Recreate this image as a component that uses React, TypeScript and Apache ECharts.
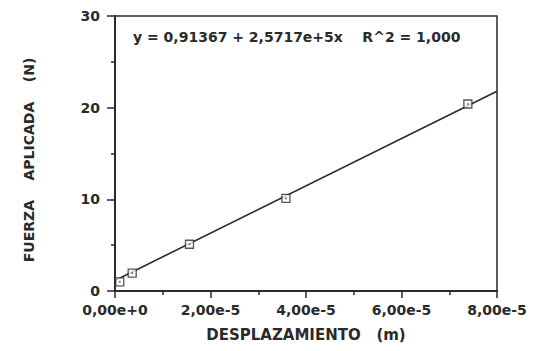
import React, { useEffect, useRef } from "react";
import * as echarts from "echarts";

const pointsX = [1.0e-6, 3.6e-6, 1.56e-5, 3.58e-5, 7.39e-5];
const pointsY = [1.0, 1.95, 5.1, 10.1, 20.4];
const fitX = [0, 8.0e-5];
const fitY = [1.15, 21.8];
const xTickLabels = ["0,00e+0", "2,00e-5", "4,00e-5", "6,00e-5", "8,00e-5"];
const yTickLabels = ["0", "10", "20", "30"];
const equationText = "y = 0,91367 + 2,5717e+5x    R^2 = 1,000";
const xName = "DESPLAZAMIENTO   (m)";
const yName = "FUERZA    APLICADA    (N)";

const INK = "#2a2a2a";
const FONT = "DejaVu Sans";

export default function App() {
  const ref = useRef<HTMLDivElement>(null);
  useEffect(() => {
    document.body.style.margin = "0";
    const chart = echarts.init(ref.current!, null, { renderer: "svg" });
    const pts = pointsX.map((x, i) => [x, pointsY[i]]);
    const fit = fitX.map((x, i) => [x, fitY[i]]);
    chart.setOption({
      animation: false,
      backgroundColor: "#ffffff",
      grid: {
        left: 115,
        right: 40,
        top: 16,
        bottom: 60,
        show: true,
        borderColor: INK,
        borderWidth: 1.5,
      },
      xAxis: {
        type: "value",
        min: 0,
        max: 8e-5,
        interval: 2e-5,
        axisLine: { show: true, lineStyle: { color: INK, width: 2 } },
        axisTick: { show: true, inside: false, length: 7, lineStyle: { color: INK, width: 1.5 } },
        minorTick: { show: true, splitNumber: 2, length: 4, lineStyle: { color: INK, width: 1.5 } },
        splitLine: { show: false },
        axisLabel: {
          margin: 12,
          color: INK,
          fontFamily: FONT,
          fontSize: 14,
          fontWeight: "bold",
          formatter: (_v: number, i: number) => xTickLabels[i],
        },
      },
      yAxis: {
        type: "value",
        min: 0,
        max: 30,
        interval: 10,
        axisLine: { show: true, lineStyle: { color: INK, width: 2 } },
        axisTick: { show: true, inside: false, length: 8, lineStyle: { color: INK, width: 1.5 } },
        minorTick: { show: true, splitNumber: 2, length: 4, lineStyle: { color: INK, width: 1.5 } },
        splitLine: { show: false },
        axisLabel: {
          margin: 15,
          color: INK,
          fontFamily: FONT,
          fontSize: 14,
          fontWeight: "bold",
          formatter: (_v: number, i: number) => yTickLabels[i],
        },
      },
      graphic: [
        {
          type: "text",
          left: 133,
          top: 30,
          style: {
            text: equationText,
            fill: INK,
            font: `bold 14px "${FONT}"`,
          },
        },
        {
          type: "text",
          x: 306,
          y: 335,
          style: {
            text: xName,
            fill: INK,
            font: `bold 15px "${FONT}"`,
            textAlign: "center",
            textVerticalAlign: "middle",
          },
        },
        {
          type: "text",
          x: 29,
          y: 160,
          rotation: Math.PI / 2,
          style: {
            text: yName,
            fill: INK,
            font: `bold 14px "${FONT}"`,
            textAlign: "center",
            textVerticalAlign: "middle",
          },
        },
      ],
      series: [
        {
          type: "line",
          data: fit,
          symbol: "none",
          lineStyle: { color: INK, width: 1.6 },
          z: 2,
        },
        {
          type: "scatter",
          data: pts,
          symbol: "rect",
          symbolSize: 8,
          itemStyle: { color: "#ffffff", borderColor: INK, borderWidth: 1.3 },
          z: 3,
        },
        {
          type: "scatter",
          data: pts,
          symbol: "circle",
          symbolSize: 2,
          itemStyle: { color: "#555555" },
          z: 4,
        },
      ],
    });
    return () => chart.dispose();
  }, []);
  return <div ref={ref} style={{ width: 537, height: 351 }} />;
}
